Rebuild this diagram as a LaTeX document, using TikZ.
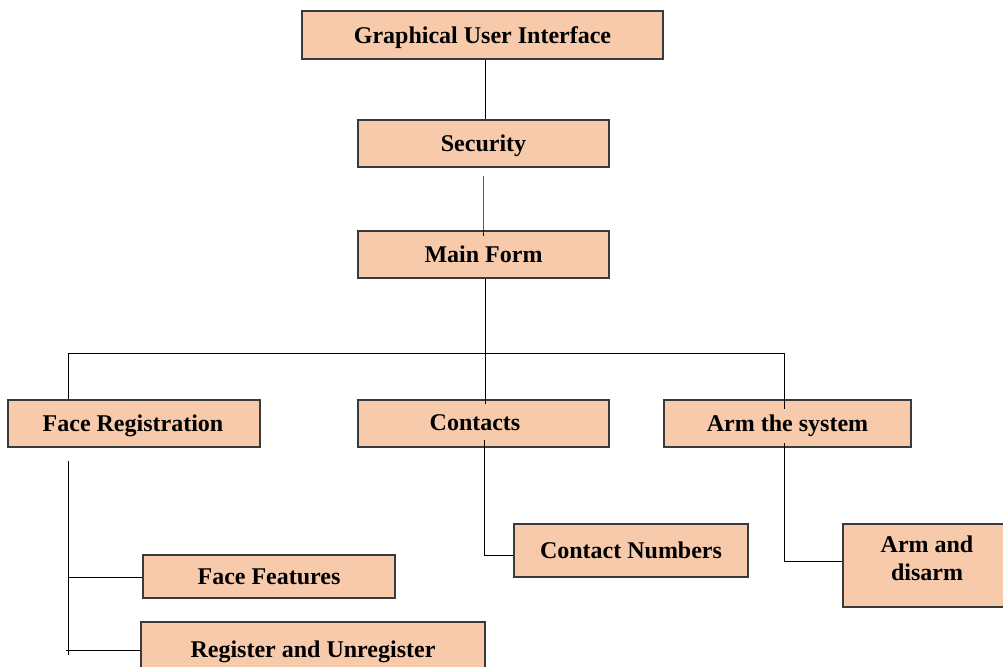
\documentclass[tikz,border=0pt]{standalone}
\usepackage{fontspec}
\setmainfont{Liberation Serif}
\definecolor{boxfill}{HTML}{F6CAAA}
\definecolor{boxline}{HTML}{3A3A3A}
\tikzset{
  box/.style={draw=boxline, line width=1.1pt, fill=boxfill, inner sep=0pt, font=\fontsize{24}{28}\selectfont\bfseries, align=center, text depth=0pt},
  lbl/.style={inner sep=0pt, font=\fontsize{24}{28}\selectfont\bfseries, align=center, text depth=0pt},
  link/.style={draw=black, line width=1pt}
}
\begin{document}
\begin{tikzpicture}[x=1pt,y=-1pt]
\useasboundingbox (0,0) rectangle (1003,666);
\clip (0,0) rectangle (1003,666);
% boxes
\node[box, minimum width=361pt, minimum height=48pt] (gui) at (482.5,35) {Graphical User Interface};
\node[box, minimum width=251pt, minimum height=47pt] (sec) at (483.5,143.5) {Security};
\node[box, minimum width=251pt, minimum height=47pt] (main) at (483.5,254.5) {Main Form};
\node[box, minimum width=252pt, minimum height=47pt] (face) at (134,423.5) {};
\node[lbl] (facet) at (133,423) {Face Registration};
\node[box, minimum width=251pt, minimum height=47pt] (cont) at (483.5,423.5) {};
\node[lbl] (contt) at (475,423) {Contacts};
\node[box, minimum width=247pt, minimum height=47pt] (arm) at (787.5,423.5) {Arm the system};
\node[box, minimum width=234pt, minimum height=53pt] (cnum) at (631,550.5) {Contact Numbers};
\node[box, minimum width=168pt, minimum height=83pt] (ad) at (927,565.5) {};
\node[lbl] (adt) at (927,558) {Arm and\\disarm};
\node[box, minimum width=252pt, minimum height=43pt] (ff) at (269,576.5) {Face Features};
\node[box, minimum width=344pt, minimum height=50pt] (reg) at (313,647) {};
\node[lbl] (regt) at (313,649) {Register and Unregister};
% coordinates
\coordinate (bus) at (485,353);
\coordinate (busL) at (68,353);
\coordinate (busR) at (784,353);
\coordinate (ftop) at (68,461);
\coordinate (fbot) at (68,655);
\coordinate (fj1) at (68,577);
\coordinate (fj2) at (66,650);
\coordinate (cj) at (484,555);
\coordinate (aj) at (784,561);
% connectors
\draw[link] (gui.south -| 485,0) -- (sec.north -| 485,0);
\draw[link] (483,176) -- (main.north -| 483,0) -- ++(0,6);
\draw[link] (main.south -| bus) -- (bus);
\draw[link] (busL) -- (busR);
\draw[link] (busL) -- (face.north -| busL);
\draw[link] (bus) -- ([yshift=-5pt]cont.north -| bus);
\draw[link] (busR) -- (arm.north -| busR) -- ++(0,10);
\draw[link] (ftop) -- (fbot);
\draw[link] (fj1) -- (ff.west |- fj1);
\draw[link] (fj2) -- (reg.west |- fj2);
\draw[link] (484,440) -- (cj) -- (cnum.west |- cj);
\draw[link] (784,443) -- (aj) -- (ad.west |- aj);
\end{tikzpicture}
\end{document}
